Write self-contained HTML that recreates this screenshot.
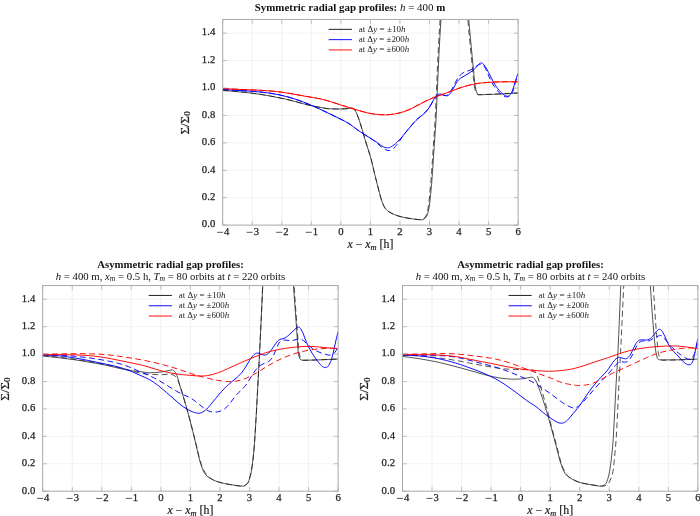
<!DOCTYPE html>
<html><head><meta charset="utf-8"><title>Radial gap profiles</title>
<style>
html,body{margin:0;padding:0;background:#fff;}
body{width:700px;height:516px;position:relative;overflow:hidden;font-family:"Liberation Serif",serif;}
</style></head><body>
<svg width="700" height="516" viewBox="0 0 700 516" style="position:absolute;left:0;top:0;will-change:transform;font-family:'Liberation Serif',serif">
<rect width="700" height="516" fill="#fff"/>
<defs>
<clipPath id="c1"><rect x="222.70" y="19.45" width="295.40" height="205.65"/></clipPath>
<clipPath id="c2"><rect x="42.70" y="285.55" width="295.40" height="205.65"/></clipPath>
<clipPath id="c3"><rect x="402.50" y="285.55" width="295.40" height="205.65"/></clipPath>
</defs>
<line x1="252.24" y1="19.45" x2="252.24" y2="225.10" stroke="#ececec" stroke-width="0.8"/>
<line x1="281.78" y1="19.45" x2="281.78" y2="225.10" stroke="#ececec" stroke-width="0.8"/>
<line x1="311.32" y1="19.45" x2="311.32" y2="225.10" stroke="#ececec" stroke-width="0.8"/>
<line x1="340.86" y1="19.45" x2="340.86" y2="225.10" stroke="#ececec" stroke-width="0.8"/>
<line x1="370.40" y1="19.45" x2="370.40" y2="225.10" stroke="#ececec" stroke-width="0.8"/>
<line x1="399.94" y1="19.45" x2="399.94" y2="225.10" stroke="#ececec" stroke-width="0.8"/>
<line x1="429.48" y1="19.45" x2="429.48" y2="225.10" stroke="#ececec" stroke-width="0.8"/>
<line x1="459.02" y1="19.45" x2="459.02" y2="225.10" stroke="#ececec" stroke-width="0.8"/>
<line x1="488.56" y1="19.45" x2="488.56" y2="225.10" stroke="#ececec" stroke-width="0.8"/>
<line x1="222.70" y1="197.68" x2="518.10" y2="197.68" stroke="#f0f0f0" stroke-width="0.8"/>
<line x1="222.70" y1="170.26" x2="518.10" y2="170.26" stroke="#f0f0f0" stroke-width="0.8"/>
<line x1="222.70" y1="142.84" x2="518.10" y2="142.84" stroke="#f0f0f0" stroke-width="0.8"/>
<line x1="222.70" y1="115.42" x2="518.10" y2="115.42" stroke="#f0f0f0" stroke-width="0.8"/>
<line x1="222.70" y1="88.00" x2="518.10" y2="88.00" stroke="#f0f0f0" stroke-width="0.8"/>
<line x1="222.70" y1="60.58" x2="518.10" y2="60.58" stroke="#f0f0f0" stroke-width="0.8"/>
<line x1="222.70" y1="33.16" x2="518.10" y2="33.16" stroke="#f0f0f0" stroke-width="0.8"/>
<g clip-path="url(#c1)">
<path d="M222.70 90.47 L228.12 90.81 L233.55 91.23 L245.39 92.41 L256.23 93.73 L261.17 94.46 L266.10 95.28 L275.96 97.12 L285.33 99.06 L291.25 100.53 L304.56 104.09 L310.48 105.51 L316.40 106.71 L326.76 108.56 L329.71 108.83 L336.13 108.95 L341.55 108.97 L345.99 108.72 L348.45 108.52 L350.76 108.21 L351.80 108.15 L352.69 108.31 L353.88 108.85 L354.32 109.24 L354.87 110.01 L355.85 111.70 L356.54 113.10 L358.32 117.52 L359.95 122.43 L362.02 129.22 L364.99 139.35 L370.02 155.38 L371.14 159.17 L371.95 162.34 L373.88 170.79 L375.21 176.26 L379.66 193.66 L380.69 197.49 L381.50 200.05 L382.77 203.51 L383.66 205.63 L384.55 207.33 L385.44 208.57 L386.62 209.89 L387.81 210.95 L388.99 211.79 L391.22 213.08 L393.44 214.17 L395.80 215.14 L398.26 215.98 L401.72 216.92 L405.17 217.67 L408.62 218.28 L414.04 219.06 L417.50 219.49 L420.46 219.72 L422.33 219.74 L422.79 219.65 L423.26 219.48 L424.11 218.97 L424.97 218.25 L426.13 216.99 L426.60 216.32 L427.06 215.29 L427.53 213.94 L428.54 210.10 L429.16 206.95 L429.86 201.75 L430.63 194.41 L431.72 182.69 L432.50 172.31 L434.13 147.29 L435.45 128.78 L435.99 120.01 L436.61 107.39 L438.86 55.99 L439.95 35.94 L441.27 14.73 L442.36 -7.11 M467.20 -6.74 L468.06 8.69 L468.78 19.67 L469.45 27.72 L471.25 46.98 L474.19 77.16 L474.89 83.57 L475.35 86.87 L475.82 89.23 L476.44 91.77 L476.91 93.01 L477.53 93.78 L478.15 94.35 L478.69 94.64 L479.24 94.72 L484.07 94.61 L498.87 94.03 L508.73 93.52 L518.10 92.94" fill="none" stroke="#161616" stroke-width="0.95" stroke-opacity="0.78" stroke-linejoin="round"/>
<path d="M222.70 90.47 L228.12 90.81 L233.55 91.23 L245.39 92.41 L256.23 93.73 L261.17 94.46 L266.10 95.28 L275.96 97.12 L285.33 99.06 L291.25 100.53 L304.56 104.09 L310.48 105.51 L316.40 106.71 L326.76 108.56 L329.71 108.83 L336.13 108.95 L341.55 108.97 L345.99 108.72 L348.45 108.52 L350.76 108.21 L351.80 108.15 L352.69 108.31 L353.88 108.85 L354.32 109.24 L354.87 110.01 L355.85 111.70 L356.54 113.10 L358.32 117.52 L359.95 122.43 L362.02 129.22 L364.99 139.35 L370.02 155.38 L371.14 159.17 L371.95 162.34 L373.88 170.79 L375.21 176.26 L379.66 193.66 L380.69 197.49 L381.50 200.05 L382.77 203.51 L383.66 205.63 L384.55 207.33 L385.44 208.57 L386.62 209.89 L387.66 210.83 L388.89 211.73 L390.92 212.92 L393.14 214.04 L395.30 214.95 L397.77 215.82 L400.24 216.54 L403.19 217.26 L406.15 217.86 L409.11 218.35 L415.03 219.19 L417.99 219.54 L421.55 219.75 L422.25 219.74 L422.71 219.61 L423.41 219.16 L424.11 218.47 L425.20 217.08 L425.74 216.20 L426.21 215.13 L426.75 213.52 L427.30 211.55 L427.85 209.21 L428.46 205.72 L429.08 200.79 L429.86 193.29 L430.87 182.31 L431.64 171.84 L433.27 146.82 L434.59 128.30 L435.14 119.43 L435.74 107.00 L438.01 55.34 L439.10 35.39 L440.34 15.55 L441.50 -7.80 M466.27 -7.62 L467.12 7.93 L467.90 19.70 L468.60 28.08 L470.23 45.59 L473.26 76.70 L473.96 83.20 L474.34 86.09 L474.73 88.27 L475.43 91.34 L475.97 92.92 L476.52 93.65 L477.17 94.27 L477.68 94.59 L478.23 94.72 L483.58 94.62 L498.37 94.06 L508.24 93.56 L518.10 92.94" fill="none" stroke="#161616" stroke-width="0.95" stroke-dasharray="5.8 3.5" stroke-opacity="0.78" stroke-linejoin="round"/>
<path d="M222.70 89.37 L229.60 89.87 L246.37 90.88 L253.77 91.41 L262.15 92.19 L269.55 93.13 L273.49 93.76 L276.95 94.38 L280.89 95.20 L284.34 96.02 L287.80 96.92 L291.74 98.07 L295.19 99.16 L299.14 100.50 L303.58 102.14 L308.02 103.89 L312.45 105.76 L316.89 107.73 L327.25 112.61 L342.54 120.07 L345.50 121.58 L347.96 122.97 L350.17 124.40 L352.09 125.80 L356.69 129.31 L359.50 131.29 L365.58 135.18 L374.77 140.90 L376.69 142.22 L380.40 144.96 L381.88 145.96 L383.47 146.84 L384.95 147.43 L386.33 147.75 L387.66 147.82 L388.55 147.71 L389.59 147.43 L390.62 147.01 L391.66 146.47 L392.84 145.73 L394.03 144.86 L395.30 143.82 L396.78 142.49 L399.25 139.99 L401.72 137.22 L412.07 124.73 L415.03 121.38 L416.02 120.38 L417.50 119.02 L423.49 114.14 L425.74 111.96 L427.36 110.08 L428.85 108.04 L430.25 105.78 L433.12 100.64 L434.36 98.55 L435.60 96.75 L436.77 95.46 L437.54 94.84 L438.32 94.40 L439.10 94.13 L439.95 94.02 L440.67 94.06 L441.50 94.25 L444.69 95.47 L446.01 95.80 L446.70 95.84 L447.40 95.74 L448.07 95.50 L448.72 95.10 L449.27 94.63 L449.89 93.96 L451.13 92.24 L452.45 90.03 L455.17 84.99 L456.33 82.96 L457.50 81.21 L458.66 79.84 L459.67 78.91 L460.84 78.07 L468.06 73.75 L470.62 72.09 L472.40 70.80 L473.65 69.78 L474.73 68.77 L475.82 67.62 L478.46 64.54 L479.31 63.74 L480.01 63.25 L480.56 63.01 L481.02 62.92 L481.49 62.94 L481.95 63.08 L482.50 63.37 L483.09 63.84 L484.07 64.93 L485.55 67.07 L487.03 69.61 L488.51 72.40 L492.46 80.18 L493.94 82.89 L495.41 85.35 L496.89 87.54 L497.88 88.86 L499.36 90.66 L500.35 91.74 L501.83 93.19 L503.31 94.46 L504.29 95.16 L505.28 95.71 L506.26 96.08 L507.25 96.23 L507.74 96.21 L508.24 96.11 L508.73 95.93 L509.22 95.65 L509.72 95.25 L510.21 94.73 L510.70 94.07 L511.20 93.26 L511.69 92.30 L512.68 89.86 L513.66 86.90 L516.62 77.31 L517.61 74.68 L518.10 73.60" fill="none" stroke="#0000ff" stroke-width="0.95" stroke-linejoin="round"/>
<path d="M222.70 89.37 L230.59 89.93 L247.36 90.95 L254.26 91.45 L262.65 92.25 L270.54 93.28 L274.48 93.93 L278.43 94.68 L282.37 95.54 L285.82 96.39 L289.28 97.34 L293.22 98.52 L297.17 99.82 L301.11 101.22 L305.06 102.71 L309.50 104.50 L313.93 106.41 L318.87 108.63 L330.21 114.05 L343.03 120.32 L346.48 122.12 L348.45 123.28 L350.46 124.60 L356.84 129.42 L359.65 131.40 L362.61 133.32 L368.99 137.26 L372.25 139.46 L375.36 141.82 L381.14 146.74 L383.66 148.65 L385.14 149.54 L386.47 150.13 L387.81 150.48 L388.99 150.54 L389.73 150.45 L390.48 150.26 L391.22 149.96 L392.11 149.47 L392.85 148.96 L393.74 148.23 L395.30 146.62 L396.29 145.43 L397.77 143.45 L402.70 136.35 L404.67 133.67 L407.14 130.62 L413.55 123.06 L415.52 120.89 L417.50 118.97 L422.71 114.55 L424.58 112.86 L426.05 111.37 L427.45 109.78 L428.61 108.28 L429.70 106.72 L433.20 101.08 L434.36 99.30 L435.52 97.75 L436.53 96.66 L437.23 96.07 L438.01 95.56 L438.79 95.19 L439.56 94.96 L440.42 94.84 L441.35 94.86 L444.61 95.47 L445.31 95.53 L446.01 95.51 L446.78 95.36 L447.48 95.07 L448.18 94.62 L448.80 94.05 L449.81 92.78 L450.90 91.04 L451.98 89.03 L455.32 82.48 L456.64 80.16 L457.88 78.19 L459.20 76.36 L460.45 74.92 L461.61 73.84 L462.93 72.91 L463.79 72.44 L464.79 72.00 L468.99 70.59 L471.08 69.66 L473.34 68.35 L477.61 65.37 L479.08 64.54 L479.93 64.26 L480.71 64.17 L481.49 64.29 L482.19 64.58 L483.09 65.24 L483.58 65.74 L484.57 67.02 L485.06 67.81 L485.55 68.70 L486.54 70.76 L489.00 76.55 L490.98 80.70 L491.96 82.54 L493.44 85.04 L494.43 86.55 L495.91 88.63 L497.39 90.51 L498.87 92.22 L500.35 93.73 L501.83 94.98 L503.31 95.96 L504.29 96.43 L505.77 96.84 L506.76 96.90 L507.74 96.78 L508.73 96.47 L509.72 95.94 L510.21 95.58 L510.70 95.11 L511.20 94.51 L511.69 93.76 L512.18 92.83 L512.68 91.70 L513.66 88.80 L516.62 77.94 L517.61 74.84 L518.10 73.60" fill="none" stroke="#0000ff" stroke-width="0.95" stroke-dasharray="5.8 3.5" stroke-linejoin="round"/>
<path d="M222.70 88.55 L233.55 89.17 L256.73 90.12 L266.10 90.67 L272.02 91.15 L277.44 91.71 L282.37 92.33 L287.80 93.15 L293.71 94.16 L308.02 96.76 L317.39 98.34 L320.34 98.93 L323.30 99.62 L327.25 100.67 L331.19 101.86 L345.50 106.50 L353.58 109.00 L363.21 111.77 L368.54 113.12 L372.40 113.85 L376.69 114.39 L381.73 114.79 L385.73 114.86 L388.10 114.75 L390.62 114.52 L393.14 114.19 L395.80 113.74 L398.26 113.22 L400.73 112.61 L403.19 111.88 L405.17 111.22 L408.13 110.07 L411.09 108.73 L414.04 107.25 L425.35 101.33 L428.85 99.66 L432.19 98.23 L436.46 96.59 L446.01 93.16 L458.89 88.32 L464.25 86.56 L469.30 85.16 L473.57 84.20 L477.92 83.46 L482.65 82.87 L488.02 82.42 L493.94 82.09 L500.84 81.87 L508.24 81.79 L518.10 81.83" fill="none" stroke="#ff0000" stroke-width="0.95" stroke-linejoin="round"/>
<path d="M222.70 88.48 L233.55 89.10 L256.73 90.05 L266.10 90.61 L272.02 91.08 L277.44 91.64 L282.37 92.26 L287.80 93.08 L293.71 94.09 L308.02 96.69 L317.39 98.28 L320.34 98.86 L323.30 99.55 L327.25 100.61 L331.19 101.79 L345.50 106.44 L353.58 108.94 L363.21 111.70 L368.54 113.05 L372.40 113.78 L376.69 114.32 L381.73 114.72 L385.73 114.79 L388.10 114.68 L390.62 114.46 L393.14 114.12 L395.80 113.67 L398.26 113.15 L400.73 112.54 L403.19 111.81 L405.17 111.15 L408.13 110.00 L411.09 108.67 L414.04 107.18 L425.35 101.26 L428.85 99.59 L432.19 98.16 L436.46 96.52 L446.01 93.09 L458.89 88.25 L464.25 86.49 L469.30 85.09 L473.57 84.14 L477.92 83.39 L482.65 82.80 L488.02 82.35 L493.94 82.02 L500.84 81.80 L508.24 81.72 L518.10 81.76" fill="none" stroke="#ff0000" stroke-width="0.95" stroke-dasharray="5.8 3.5" stroke-linejoin="round"/>
</g>
<line x1="328.70" y1="29.35" x2="351.90" y2="29.35" stroke="#161616" stroke-width="0.95"/>
<text x="358.70" y="31.75" font-size="7.6" fill="#222" textLength="46.8" lengthAdjust="spacingAndGlyphs">at Δ<tspan font-style="italic">y</tspan> = ±10<tspan font-style="italic">h</tspan></text>
<line x1="328.70" y1="39.65" x2="351.90" y2="39.65" stroke="#0000ff" stroke-width="0.95"/>
<text x="358.70" y="42.05" font-size="7.6" fill="#222" textLength="50.5" lengthAdjust="spacingAndGlyphs">at Δ<tspan font-style="italic">y</tspan> = ±200<tspan font-style="italic">h</tspan></text>
<line x1="328.70" y1="49.95" x2="351.90" y2="49.95" stroke="#ff0000" stroke-width="0.95"/>
<text x="358.70" y="52.35" font-size="7.6" fill="#222" textLength="50.5" lengthAdjust="spacingAndGlyphs">at Δ<tspan font-style="italic">y</tspan> = ±600<tspan font-style="italic">h</tspan></text>
<path d="M222.70 225.10v-4.20 M222.70 19.45v4.20 M252.24 225.10v-4.20 M252.24 19.45v4.20 M281.78 225.10v-4.20 M281.78 19.45v4.20 M311.32 225.10v-4.20 M311.32 19.45v4.20 M340.86 225.10v-4.20 M340.86 19.45v4.20 M370.40 225.10v-4.20 M370.40 19.45v4.20 M399.94 225.10v-4.20 M399.94 19.45v4.20 M429.48 225.10v-4.20 M429.48 19.45v4.20 M459.02 225.10v-4.20 M459.02 19.45v4.20 M488.56 225.10v-4.20 M488.56 19.45v4.20 M518.10 225.10v-4.20 M518.10 19.45v4.20 M222.70 225.10h4.20 M518.10 225.10h-4.20 M222.70 197.68h4.20 M518.10 197.68h-4.20 M222.70 170.26h4.20 M518.10 170.26h-4.20 M222.70 142.84h4.20 M518.10 142.84h-4.20 M222.70 115.42h4.20 M518.10 115.42h-4.20 M222.70 88.00h4.20 M518.10 88.00h-4.20 M222.70 60.58h4.20 M518.10 60.58h-4.20 M222.70 33.16h4.20 M518.10 33.16h-4.20 " stroke="#a8a8a8" stroke-width="0.7" fill="none"/>
<rect x="222.70" y="19.45" width="295.40" height="205.65" fill="none" stroke="#a9a9a9" stroke-width="1.0"/>
<line x1="217.10" y1="232.30" x2="223.10" y2="232.30" stroke="#222" stroke-width="0.75"/>
<text x="224.10" y="235.15" font-size="10.7" fill="#222" stroke="#222" stroke-width="0.25">4</text>
<line x1="246.64" y1="232.30" x2="252.64" y2="232.30" stroke="#222" stroke-width="0.75"/>
<text x="253.64" y="235.15" font-size="10.7" fill="#222" stroke="#222" stroke-width="0.25">3</text>
<line x1="276.18" y1="232.30" x2="282.18" y2="232.30" stroke="#222" stroke-width="0.75"/>
<text x="283.18" y="235.15" font-size="10.7" fill="#222" stroke="#222" stroke-width="0.25">2</text>
<line x1="305.72" y1="232.30" x2="311.72" y2="232.30" stroke="#222" stroke-width="0.75"/>
<text x="312.72" y="235.15" font-size="10.7" fill="#222" stroke="#222" stroke-width="0.25">1</text>
<text x="340.86" y="235.15" font-size="10.7" text-anchor="middle" fill="#222" stroke="#222" stroke-width="0.25">0</text>
<text x="370.40" y="235.15" font-size="10.7" text-anchor="middle" fill="#222" stroke="#222" stroke-width="0.25">1</text>
<text x="399.94" y="235.15" font-size="10.7" text-anchor="middle" fill="#222" stroke="#222" stroke-width="0.25">2</text>
<text x="429.48" y="235.15" font-size="10.7" text-anchor="middle" fill="#222" stroke="#222" stroke-width="0.25">3</text>
<text x="459.02" y="235.15" font-size="10.7" text-anchor="middle" fill="#222" stroke="#222" stroke-width="0.25">4</text>
<text x="488.56" y="235.15" font-size="10.7" text-anchor="middle" fill="#222" stroke="#222" stroke-width="0.25">5</text>
<text x="518.10" y="235.15" font-size="10.7" text-anchor="middle" fill="#222" stroke="#222" stroke-width="0.25">6</text>
<text x="215.45" y="227.40" font-size="10.7" text-anchor="end" letter-spacing="0.1" fill="#222" stroke="#222" stroke-width="0.25">0.0</text>
<text x="215.45" y="199.98" font-size="10.7" text-anchor="end" letter-spacing="0.1" fill="#222" stroke="#222" stroke-width="0.25">0.2</text>
<text x="215.45" y="172.56" font-size="10.7" text-anchor="end" letter-spacing="0.1" fill="#222" stroke="#222" stroke-width="0.25">0.4</text>
<text x="215.45" y="145.14" font-size="10.7" text-anchor="end" letter-spacing="0.1" fill="#222" stroke="#222" stroke-width="0.25">0.6</text>
<text x="215.45" y="117.72" font-size="10.7" text-anchor="end" letter-spacing="0.1" fill="#222" stroke="#222" stroke-width="0.25">0.8</text>
<text x="215.45" y="90.30" font-size="10.7" text-anchor="end" letter-spacing="0.1" fill="#222" stroke="#222" stroke-width="0.25">1.0</text>
<text x="215.45" y="62.88" font-size="10.7" text-anchor="end" letter-spacing="0.1" fill="#222" stroke="#222" stroke-width="0.25">1.2</text>
<text x="215.45" y="35.46" font-size="10.7" text-anchor="end" letter-spacing="0.1" fill="#222" stroke="#222" stroke-width="0.25">1.4</text>
<text x="370.40" y="248.00" font-size="11.6" text-anchor="middle" fill="#222" stroke="#222" stroke-width="0.2" textLength="46" lengthAdjust="spacingAndGlyphs"><tspan font-style="italic">x</tspan> − <tspan font-style="italic">x</tspan><tspan font-style="italic" font-size="8.2" dy="1.8">m</tspan><tspan dy="-1.8"> [h]</tspan></text>
<text transform="translate(188.50 122.97) rotate(-90)" font-size="12.2" text-anchor="middle" fill="#222" stroke="#222" stroke-width="0.2" textLength="23.2" lengthAdjust="spacingAndGlyphs">Σ/Σ<tspan font-size="8.4" dy="1.8">0</tspan></text>
<line x1="72.24" y1="285.55" x2="72.24" y2="491.20" stroke="#ececec" stroke-width="0.8"/>
<line x1="101.78" y1="285.55" x2="101.78" y2="491.20" stroke="#ececec" stroke-width="0.8"/>
<line x1="131.32" y1="285.55" x2="131.32" y2="491.20" stroke="#ececec" stroke-width="0.8"/>
<line x1="160.86" y1="285.55" x2="160.86" y2="491.20" stroke="#ececec" stroke-width="0.8"/>
<line x1="190.40" y1="285.55" x2="190.40" y2="491.20" stroke="#ececec" stroke-width="0.8"/>
<line x1="219.94" y1="285.55" x2="219.94" y2="491.20" stroke="#ececec" stroke-width="0.8"/>
<line x1="249.48" y1="285.55" x2="249.48" y2="491.20" stroke="#ececec" stroke-width="0.8"/>
<line x1="279.02" y1="285.55" x2="279.02" y2="491.20" stroke="#ececec" stroke-width="0.8"/>
<line x1="308.56" y1="285.55" x2="308.56" y2="491.20" stroke="#ececec" stroke-width="0.8"/>
<line x1="42.70" y1="463.78" x2="338.10" y2="463.78" stroke="#f0f0f0" stroke-width="0.8"/>
<line x1="42.70" y1="436.36" x2="338.10" y2="436.36" stroke="#f0f0f0" stroke-width="0.8"/>
<line x1="42.70" y1="408.94" x2="338.10" y2="408.94" stroke="#f0f0f0" stroke-width="0.8"/>
<line x1="42.70" y1="381.52" x2="338.10" y2="381.52" stroke="#f0f0f0" stroke-width="0.8"/>
<line x1="42.70" y1="354.10" x2="338.10" y2="354.10" stroke="#f0f0f0" stroke-width="0.8"/>
<line x1="42.70" y1="326.68" x2="338.10" y2="326.68" stroke="#f0f0f0" stroke-width="0.8"/>
<line x1="42.70" y1="299.26" x2="338.10" y2="299.26" stroke="#f0f0f0" stroke-width="0.8"/>
<g clip-path="url(#c2)">
<path d="M42.70 356.02 L52.07 356.95 L61.93 358.10 L73.28 359.59 L81.66 360.85 L92.02 362.60 L103.36 364.69 L108.78 365.87 L121.11 368.78 L127.52 370.08 L132.45 370.84 L140.34 371.70 L146.76 372.56 L148.73 372.72 L150.70 372.74 L153.66 372.64 L157.11 372.41 L162.04 371.91 L166.98 370.87 L171.20 370.08 L172.54 370.01 L172.89 370.11 L173.28 370.32 L173.88 370.80 L174.87 371.78 L175.65 372.89 L176.84 375.27 L177.72 377.82 L179.65 384.84 L182.76 394.89 L185.58 404.29 L189.43 418.15 L192.62 430.68 L196.40 446.33 L198.77 456.68 L199.95 461.31 L201.00 464.70 L202.18 468.13 L203.07 470.35 L203.96 472.10 L204.99 473.65 L206.03 474.99 L207.07 476.10 L208.25 477.10 L210.33 478.44 L212.55 479.66 L214.81 480.68 L217.28 481.61 L220.73 482.64 L224.67 483.57 L228.62 484.30 L236.51 485.57 L239.47 485.95 L242.17 486.12 L243.34 486.07 L244.40 485.73 L245.28 485.25 L246.21 484.59 L247.45 483.48 L247.85 482.96 L248.38 481.94 L248.93 480.56 L250.09 476.69 L251.10 472.50 L252.03 466.93 L253.04 459.03 L253.97 449.95 L254.83 438.16 L256.24 415.19 L259.33 357.86 L260.96 324.44 L263.99 258.26 M291.94 258.76 L292.87 275.47 L293.65 287.84 L296.52 327.65 L297.92 348.75 L298.23 352.09 L298.46 353.80 L299.14 356.72 L299.78 358.57 L300.17 359.20 L300.87 359.70 L301.72 360.10 L302.59 360.27 L308.02 360.19 L320.35 359.81 L338.10 359.04" fill="none" stroke="#161616" stroke-width="0.95" stroke-opacity="0.78" stroke-linejoin="round"/>
<path d="M42.70 355.47 L56.51 356.92 L71.80 358.84 L84.62 360.71 L96.95 362.79 L105.33 364.41 L113.71 366.31 L131.47 370.73 L138.87 372.89 L141.82 373.54 L143.80 373.77 L149.22 374.21 L153.17 374.46 L157.11 374.61 L162.04 374.64 L167.96 374.30 L170.17 374.27 L171.20 374.40 L172.24 374.65 L173.72 375.16 L174.32 375.46 L175.06 376.09 L175.85 377.01 L176.69 378.15 L177.28 379.20 L178.02 380.79 L178.81 382.73 L179.95 385.71 L180.69 387.92 L185.73 404.81 L189.73 419.30 L192.25 428.95 L196.07 444.13 L198.77 455.59 L199.95 460.12 L201.29 464.23 L202.62 467.75 L203.81 470.30 L205.29 472.84 L206.43 474.51 L207.51 475.82 L208.40 476.65 L209.88 477.75 L211.81 478.99 L213.82 480.09 L215.80 480.99 L218.26 481.91 L221.72 482.91 L225.17 483.68 L228.62 484.31 L237.00 485.65 L239.96 486.00 L242.33 486.12 L243.34 486.07 L244.34 485.75 L245.28 485.25 L246.21 484.59 L247.45 483.48 L247.85 482.96 L248.38 481.94 L248.93 480.56 L250.09 476.69 L251.10 472.50 L252.03 466.93 L253.04 459.03 L253.97 449.95 L254.83 438.16 L256.24 415.19 L259.33 357.86 L260.96 324.44 L263.99 258.26 M292.56 259.22 L293.65 278.56 L294.73 295.23 L295.97 312.75 L298.46 345.78 L298.93 350.78 L299.31 353.65 L300.01 356.62 L300.63 358.48 L301.02 359.16 L301.72 359.68 L302.65 360.12 L303.58 360.27 L308.51 360.19 L320.84 359.79 L338.10 359.04" fill="none" stroke="#161616" stroke-width="0.95" stroke-dasharray="5.8 3.5" stroke-opacity="0.78" stroke-linejoin="round"/>
<path d="M42.70 355.33 L46.15 355.27 L50.10 355.31 L54.04 355.48 L57.99 355.76 L61.93 356.14 L66.37 356.67 L70.81 357.30 L75.74 358.11 L81.66 359.18 L88.07 360.44 L106.81 364.33 L112.23 365.51 L116.67 366.58 L120.62 367.64 L124.56 368.86 L128.02 370.07 L132.45 371.86 L139.36 374.98 L145.77 377.77 L148.73 379.22 L151.19 380.62 L153.17 381.88 L155.14 383.25 L157.61 385.10 L160.07 387.05 L166.48 392.44 L178.02 402.64 L180.98 405.04 L183.80 407.08 L186.02 408.51 L188.10 409.70 L190.17 410.75 L192.25 411.66 L194.32 412.41 L196.40 412.99 L197.88 413.24 L199.21 413.27 L200.02 413.16 L200.84 412.94 L201.73 412.60 L202.62 412.15 L204.55 410.88 L206.62 409.11 L208.25 407.45 L210.03 405.42 L215.80 398.24 L219.25 394.11 L221.72 391.32 L224.18 388.69 L226.65 386.25 L228.62 384.44 L236.51 377.86 L238.48 376.08 L239.96 374.60 L242.02 372.24 L243.96 369.60 L245.59 367.04 L249.39 360.69 L251.18 357.98 L252.73 355.97 L254.13 354.55 L254.98 353.90 L255.74 353.48 L256.53 353.21 L257.31 353.12 L258.09 353.17 L259.02 353.37 L262.59 354.73 L264.07 355.09 L264.84 355.13 L265.62 355.02 L266.39 354.75 L267.17 354.33 L267.95 353.77 L268.72 353.08 L270.35 351.28 L271.91 349.19 L275.96 343.21 L277.19 341.67 L278.27 340.56 L279.13 339.91 L279.98 339.46 L280.91 339.14 L283.01 338.68 L283.94 338.40 L285.03 337.91 L286.27 337.14 L287.75 336.02 L289.45 334.54 L296.18 328.16 L296.98 327.55 L297.66 327.20 L298.15 327.10 L298.61 327.12 L299.08 327.28 L299.55 327.56 L300.01 327.97 L300.48 328.49 L301.49 329.99 L302.26 331.46 L303.09 333.31 L306.54 342.38 L307.52 344.71 L308.51 346.80 L309.99 349.62 L311.96 352.99 L313.94 356.04 L316.40 359.54 L318.37 362.20 L319.85 364.03 L321.33 365.59 L322.32 366.43 L323.31 367.06 L323.80 367.30 L324.78 367.58 L325.77 367.58 L326.26 367.46 L326.76 367.26 L327.25 366.96 L327.74 366.57 L328.24 366.06 L329.22 364.67 L330.21 362.73 L330.70 361.53 L331.69 358.64 L332.18 356.92 L333.17 353.02 L336.62 337.39 L338.10 331.48" fill="none" stroke="#0000ff" stroke-width="0.95" stroke-linejoin="round"/>
<path d="M42.70 354.79 L48.12 354.81 L53.55 354.92 L58.97 355.13 L64.40 355.43 L69.82 355.82 L75.25 356.29 L80.67 356.86 L86.10 357.51 L92.02 358.31 L97.93 359.22 L103.85 360.22 L108.78 361.15 L113.22 362.10 L117.17 363.06 L121.11 364.16 L124.56 365.25 L128.51 366.67 L131.96 368.08 L139.85 371.63 L149.22 375.58 L151.69 376.72 L154.65 378.21 L158.10 380.08 L162.04 382.35 L174.37 389.92 L178.02 392.05 L181.58 393.88 L188.25 396.84 L189.73 397.60 L191.14 398.41 L193.14 399.72 L195.36 401.34 L203.51 407.83 L205.14 408.98 L206.77 409.99 L208.70 410.95 L210.62 411.63 L212.70 412.02 L214.81 412.12 L216.78 411.98 L218.26 411.73 L220.24 411.19 L221.72 410.60 L223.19 409.84 L224.67 408.84 L225.66 408.02 L227.14 406.56 L229.11 404.27 L234.54 397.36 L237.00 394.41 L238.98 392.29 L243.34 387.98 L244.58 386.62 L245.66 385.29 L246.67 383.93 L247.68 382.41 L251.72 375.76 L253.74 372.62 L255.52 370.11 L257.22 368.08 L258.09 367.21 L259.02 366.40 L260.03 365.65 L261.04 365.01 L262.98 364.01 L267.17 362.21 L268.65 361.40 L269.97 360.40 L271.21 359.10 L272.45 357.34 L273.61 355.18 L274.70 352.73 L277.19 346.64 L278.51 343.87 L279.13 342.83 L279.83 341.92 L280.52 341.25 L281.30 340.73 L281.92 340.45 L282.70 340.22 L283.55 340.09 L284.41 340.04 L285.96 340.14 L289.69 340.66 L290.70 340.71 L291.55 340.68 L293.22 340.38 L296.60 339.34 L297.99 339.02 L299.47 338.91 L300.13 338.98 L300.79 339.13 L301.41 339.35 L302.11 339.70 L303.58 340.70 L305.06 341.96 L308.51 345.28 L309.99 346.58 L312.46 348.47 L314.92 350.05 L317.88 351.59 L321.33 353.02 L323.31 353.70 L325.77 354.45 L327.25 354.85 L328.73 355.12 L330.21 355.16 L331.20 354.99 L332.18 354.63 L332.68 354.36 L333.66 353.64 L334.65 352.64 L335.14 352.03 L336.13 350.54 L337.11 348.68 L338.10 346.42" fill="none" stroke="#0000ff" stroke-width="0.95" stroke-dasharray="5.8 3.5" stroke-linejoin="round"/>
<path d="M42.70 354.79 L62.43 354.66 L69.33 354.73 L75.74 354.89 L82.15 355.17 L88.07 355.57 L93.49 356.07 L98.92 356.71 L104.84 357.60 L111.25 358.75 L138.87 364.42 L142.32 365.26 L145.77 366.21 L157.11 369.61 L161.55 370.88 L166.48 372.11 L171.20 373.10 L176.39 373.94 L182.61 374.65 L196.07 375.86 L199.06 376.02 L201.73 376.03 L203.66 375.95 L205.58 375.79 L207.41 375.56 L209.29 375.23 L213.14 374.33 L217.28 373.04 L220.24 371.94 L223.69 370.52 L227.63 368.76 L236.02 364.88 L241.63 362.39 L252.11 357.93 L258.63 355.30 L263.60 353.50 L268.18 352.05 L273.07 350.74 L278.20 349.60 L284.87 348.42 L292.17 347.45 L299.70 346.74 L303.09 346.53 L306.04 346.44 L310.48 346.46 L314.92 346.68 L319.36 347.04 L331.69 348.22 L338.10 348.62" fill="none" stroke="#ff0000" stroke-width="0.95" stroke-linejoin="round"/>
<path d="M42.70 354.10 L50.59 354.04 L75.74 353.66 L84.13 353.68 L91.52 353.84 L98.92 354.18 L106.32 354.75 L114.21 355.58 L122.59 356.70 L132.95 358.35 L143.30 360.23 L152.18 362.06 L160.56 364.03 L166.98 365.75 L172.98 367.53 L178.02 369.15 L189.88 373.12 L196.55 375.21 L203.51 377.18 L209.88 378.77 L215.80 380.00 L221.72 380.95 L226.15 381.39 L228.62 381.51 L230.59 381.51 L233.06 381.40 L235.03 381.21 L237.00 380.93 L238.98 380.55 L240.85 380.09 L242.71 379.54 L244.50 378.92 L246.29 378.19 L249.78 376.50 L256.61 372.79 L259.33 371.19 L265.23 367.47 L268.72 365.37 L272.76 363.08 L276.72 360.99 L281.30 358.79 L285.88 356.81 L290.46 355.05 L295.12 353.49 L299.78 352.16 L304.57 351.03 L309.50 350.10 L314.43 349.39 L319.85 348.84 L325.28 348.48 L331.20 348.28 L338.10 348.20" fill="none" stroke="#ff0000" stroke-width="0.95" stroke-dasharray="5.8 3.5" stroke-linejoin="round"/>
</g>
<line x1="148.70" y1="295.45" x2="171.90" y2="295.45" stroke="#161616" stroke-width="0.95"/>
<text x="178.70" y="297.85" font-size="7.6" fill="#222" textLength="46.8" lengthAdjust="spacingAndGlyphs">at Δ<tspan font-style="italic">y</tspan> = ±10<tspan font-style="italic">h</tspan></text>
<line x1="148.70" y1="305.75" x2="171.90" y2="305.75" stroke="#0000ff" stroke-width="0.95"/>
<text x="178.70" y="308.15" font-size="7.6" fill="#222" textLength="50.5" lengthAdjust="spacingAndGlyphs">at Δ<tspan font-style="italic">y</tspan> = ±200<tspan font-style="italic">h</tspan></text>
<line x1="148.70" y1="316.05" x2="171.90" y2="316.05" stroke="#ff0000" stroke-width="0.95"/>
<text x="178.70" y="318.45" font-size="7.6" fill="#222" textLength="50.5" lengthAdjust="spacingAndGlyphs">at Δ<tspan font-style="italic">y</tspan> = ±600<tspan font-style="italic">h</tspan></text>
<path d="M42.70 491.20v-4.20 M42.70 285.55v4.20 M72.24 491.20v-4.20 M72.24 285.55v4.20 M101.78 491.20v-4.20 M101.78 285.55v4.20 M131.32 491.20v-4.20 M131.32 285.55v4.20 M160.86 491.20v-4.20 M160.86 285.55v4.20 M190.40 491.20v-4.20 M190.40 285.55v4.20 M219.94 491.20v-4.20 M219.94 285.55v4.20 M249.48 491.20v-4.20 M249.48 285.55v4.20 M279.02 491.20v-4.20 M279.02 285.55v4.20 M308.56 491.20v-4.20 M308.56 285.55v4.20 M338.10 491.20v-4.20 M338.10 285.55v4.20 M42.70 491.20h4.20 M338.10 491.20h-4.20 M42.70 463.78h4.20 M338.10 463.78h-4.20 M42.70 436.36h4.20 M338.10 436.36h-4.20 M42.70 408.94h4.20 M338.10 408.94h-4.20 M42.70 381.52h4.20 M338.10 381.52h-4.20 M42.70 354.10h4.20 M338.10 354.10h-4.20 M42.70 326.68h4.20 M338.10 326.68h-4.20 M42.70 299.26h4.20 M338.10 299.26h-4.20 " stroke="#a8a8a8" stroke-width="0.7" fill="none"/>
<rect x="42.70" y="285.55" width="295.40" height="205.65" fill="none" stroke="#a9a9a9" stroke-width="1.0"/>
<line x1="37.10" y1="498.40" x2="43.10" y2="498.40" stroke="#222" stroke-width="0.75"/>
<text x="44.10" y="501.25" font-size="10.7" fill="#222" stroke="#222" stroke-width="0.25">4</text>
<line x1="66.64" y1="498.40" x2="72.64" y2="498.40" stroke="#222" stroke-width="0.75"/>
<text x="73.64" y="501.25" font-size="10.7" fill="#222" stroke="#222" stroke-width="0.25">3</text>
<line x1="96.18" y1="498.40" x2="102.18" y2="498.40" stroke="#222" stroke-width="0.75"/>
<text x="103.18" y="501.25" font-size="10.7" fill="#222" stroke="#222" stroke-width="0.25">2</text>
<line x1="125.72" y1="498.40" x2="131.72" y2="498.40" stroke="#222" stroke-width="0.75"/>
<text x="132.72" y="501.25" font-size="10.7" fill="#222" stroke="#222" stroke-width="0.25">1</text>
<text x="160.86" y="501.25" font-size="10.7" text-anchor="middle" fill="#222" stroke="#222" stroke-width="0.25">0</text>
<text x="190.40" y="501.25" font-size="10.7" text-anchor="middle" fill="#222" stroke="#222" stroke-width="0.25">1</text>
<text x="219.94" y="501.25" font-size="10.7" text-anchor="middle" fill="#222" stroke="#222" stroke-width="0.25">2</text>
<text x="249.48" y="501.25" font-size="10.7" text-anchor="middle" fill="#222" stroke="#222" stroke-width="0.25">3</text>
<text x="279.02" y="501.25" font-size="10.7" text-anchor="middle" fill="#222" stroke="#222" stroke-width="0.25">4</text>
<text x="308.56" y="501.25" font-size="10.7" text-anchor="middle" fill="#222" stroke="#222" stroke-width="0.25">5</text>
<text x="338.10" y="501.25" font-size="10.7" text-anchor="middle" fill="#222" stroke="#222" stroke-width="0.25">6</text>
<text x="35.45" y="493.50" font-size="10.7" text-anchor="end" letter-spacing="0.1" fill="#222" stroke="#222" stroke-width="0.25">0.0</text>
<text x="35.45" y="466.08" font-size="10.7" text-anchor="end" letter-spacing="0.1" fill="#222" stroke="#222" stroke-width="0.25">0.2</text>
<text x="35.45" y="438.66" font-size="10.7" text-anchor="end" letter-spacing="0.1" fill="#222" stroke="#222" stroke-width="0.25">0.4</text>
<text x="35.45" y="411.24" font-size="10.7" text-anchor="end" letter-spacing="0.1" fill="#222" stroke="#222" stroke-width="0.25">0.6</text>
<text x="35.45" y="383.82" font-size="10.7" text-anchor="end" letter-spacing="0.1" fill="#222" stroke="#222" stroke-width="0.25">0.8</text>
<text x="35.45" y="356.40" font-size="10.7" text-anchor="end" letter-spacing="0.1" fill="#222" stroke="#222" stroke-width="0.25">1.0</text>
<text x="35.45" y="328.98" font-size="10.7" text-anchor="end" letter-spacing="0.1" fill="#222" stroke="#222" stroke-width="0.25">1.2</text>
<text x="35.45" y="301.56" font-size="10.7" text-anchor="end" letter-spacing="0.1" fill="#222" stroke="#222" stroke-width="0.25">1.4</text>
<text x="190.40" y="514.10" font-size="11.6" text-anchor="middle" fill="#222" stroke="#222" stroke-width="0.2" textLength="46" lengthAdjust="spacingAndGlyphs"><tspan font-style="italic">x</tspan> − <tspan font-style="italic">x</tspan><tspan font-style="italic" font-size="8.2" dy="1.8">m</tspan><tspan dy="-1.8"> [h]</tspan></text>
<text transform="translate(8.50 389.07) rotate(-90)" font-size="12.2" text-anchor="middle" fill="#222" stroke="#222" stroke-width="0.2" textLength="23.2" lengthAdjust="spacingAndGlyphs">Σ/Σ<tspan font-size="8.4" dy="1.8">0</tspan></text>
<line x1="432.04" y1="285.55" x2="432.04" y2="491.20" stroke="#ececec" stroke-width="0.8"/>
<line x1="461.58" y1="285.55" x2="461.58" y2="491.20" stroke="#ececec" stroke-width="0.8"/>
<line x1="491.12" y1="285.55" x2="491.12" y2="491.20" stroke="#ececec" stroke-width="0.8"/>
<line x1="520.66" y1="285.55" x2="520.66" y2="491.20" stroke="#ececec" stroke-width="0.8"/>
<line x1="550.20" y1="285.55" x2="550.20" y2="491.20" stroke="#ececec" stroke-width="0.8"/>
<line x1="579.74" y1="285.55" x2="579.74" y2="491.20" stroke="#ececec" stroke-width="0.8"/>
<line x1="609.28" y1="285.55" x2="609.28" y2="491.20" stroke="#ececec" stroke-width="0.8"/>
<line x1="638.82" y1="285.55" x2="638.82" y2="491.20" stroke="#ececec" stroke-width="0.8"/>
<line x1="668.36" y1="285.55" x2="668.36" y2="491.20" stroke="#ececec" stroke-width="0.8"/>
<line x1="402.50" y1="463.78" x2="697.90" y2="463.78" stroke="#f0f0f0" stroke-width="0.8"/>
<line x1="402.50" y1="436.36" x2="697.90" y2="436.36" stroke="#f0f0f0" stroke-width="0.8"/>
<line x1="402.50" y1="408.94" x2="697.90" y2="408.94" stroke="#f0f0f0" stroke-width="0.8"/>
<line x1="402.50" y1="381.52" x2="697.90" y2="381.52" stroke="#f0f0f0" stroke-width="0.8"/>
<line x1="402.50" y1="354.10" x2="697.90" y2="354.10" stroke="#f0f0f0" stroke-width="0.8"/>
<line x1="402.50" y1="326.68" x2="697.90" y2="326.68" stroke="#f0f0f0" stroke-width="0.8"/>
<line x1="402.50" y1="299.26" x2="697.90" y2="299.26" stroke="#f0f0f0" stroke-width="0.8"/>
<g clip-path="url(#c3)">
<path d="M402.50 356.43 L410.88 357.46 L419.76 358.79 L430.61 360.69 L438.01 362.18 L446.88 364.30 L461.19 368.04 L483.38 374.35 L487.32 375.42 L490.28 376.13 L493.73 376.86 L499.16 377.90 L502.12 378.31 L508.04 378.91 L511.49 379.14 L514.45 379.19 L517.90 379.08 L521.84 378.81 L523.82 378.51 L531.30 377.16 L532.20 377.17 L532.63 377.31 L533.08 377.56 L533.68 378.01 L534.56 378.79 L535.15 379.52 L536.04 381.10 L537.38 383.96 L538.12 385.75 L539.01 388.17 L542.86 399.47 L544.64 404.92 L546.42 410.65 L550.27 423.99 L556.20 446.17 L559.16 457.85 L560.31 461.96 L561.30 464.94 L562.87 468.94 L564.05 471.58 L565.09 473.45 L565.83 474.44 L567.16 475.79 L568.50 476.89 L569.83 477.81 L571.76 478.93 L574.61 480.41 L577.08 481.51 L579.05 482.22 L582.01 483.02 L584.97 483.66 L597.30 485.80 L599.27 486.03 L601.35 486.13 L602.13 486.03 L602.98 485.73 L604.14 485.07 L605.39 484.12 L605.78 483.71 L606.24 482.97 L606.86 481.60 L607.56 479.61 L608.26 477.24 L609.04 474.27 L609.81 470.21 L610.74 463.57 L611.99 453.02 L612.76 444.77 L613.23 438.66 L613.57 433.02 L616.02 385.33 L617.42 361.86 L617.96 351.77 L618.74 334.68 L620.45 293.41 L622.00 258.72 M648.79 259.17 L649.87 278.17 L651.05 296.33 L652.28 314.09 L653.21 325.76 L654.61 341.18 L655.54 349.71 L655.93 352.40 L656.24 354.06 L656.94 357.03 L657.46 358.53 L657.72 358.89 L658.57 359.45 L659.35 359.76 L660.05 359.86 L675.21 359.86 L680.15 359.79 L688.04 359.54 L697.90 359.04" fill="none" stroke="#161616" stroke-width="0.95" stroke-opacity="0.78" stroke-linejoin="round"/>
<path d="M402.50 354.79 L411.87 355.33 L422.72 356.21 L434.56 357.38 L443.43 358.51 L451.32 359.69 L460.20 361.16 L464.14 361.92 L472.53 363.69 L478.45 364.80 L497.19 368.04 L501.13 368.61 L508.53 369.21 L515.43 369.50 L520.86 369.59 L531.21 369.46 L531.89 369.56 L532.69 369.82 L533.52 370.21 L534.41 370.74 L534.86 371.10 L535.16 371.48 L535.60 372.21 L536.15 373.33 L537.82 377.41 L538.86 380.54 L542.41 392.57 L546.86 408.31 L548.05 412.83 L551.31 426.10 L556.64 445.61 L559.46 456.70 L560.64 461.07 L561.68 464.37 L563.01 467.85 L564.35 470.95 L565.53 473.20 L566.27 474.27 L567.46 475.55 L568.79 476.73 L570.28 477.81 L572.35 479.07 L575.10 480.56 L577.08 481.47 L579.05 482.21 L582.50 483.15 L585.95 483.88 L589.41 484.48 L597.30 485.66 L600.42 486.00 L603.14 486.13 L604.14 486.05 L605.15 485.72 L606.40 485.06 L607.79 484.08 L608.26 483.63 L608.80 482.89 L609.66 481.35 L610.74 478.92 L611.60 476.74 L612.22 474.72 L612.92 471.66 L613.46 467.88 L614.08 462.12 L615.54 446.88 L616.26 437.49 L617.11 421.88 L618.90 384.08 L621.07 342.69 L624.95 259.65 M651.74 258.16 L652.90 279.02 L654.84 310.88 L655.62 322.34 L656.63 335.14 L657.48 345.12 L658.18 351.48 L658.49 353.49 L658.94 355.58 L659.42 357.42 L659.81 358.46 L660.20 359.01 L661.13 359.80 L661.83 360.16 L662.45 360.27 L667.82 360.19 L680.15 359.81 L697.90 359.04" fill="none" stroke="#161616" stroke-width="0.95" stroke-dasharray="5.8 3.5" stroke-opacity="0.78" stroke-linejoin="round"/>
<path d="M402.50 355.33 L407.43 355.32 L412.36 355.47 L417.29 355.76 L422.23 356.20 L427.16 356.80 L432.09 357.54 L437.02 358.42 L441.95 359.45 L446.39 360.50 L451.32 361.81 L455.76 363.10 L460.69 364.67 L466.12 366.55 L473.02 369.09 L479.93 371.73 L484.86 373.74 L490.28 376.18 L495.71 378.94 L500.64 381.78 L505.57 384.95 L510.01 388.05 L515.93 392.35 L526.78 400.59 L529.24 402.26 L533.68 405.06 L535.89 406.60 L538.61 408.71 L543.60 412.91 L545.82 414.69 L548.94 416.96 L553.68 420.23 L556.05 421.63 L558.12 422.58 L559.01 422.88 L559.90 423.09 L560.80 423.20 L561.68 423.20 L562.72 423.05 L563.61 422.80 L564.64 422.33 L565.53 421.80 L566.42 421.14 L567.31 420.35 L569.39 418.09 L572.94 413.71 L577.08 408.79 L579.54 405.64 L581.52 402.85 L587.43 393.94 L589.41 391.19 L591.87 387.94 L595.82 383.02 L598.78 379.55 L600.96 377.18 L604.92 373.16 L606.78 371.05 L608.64 368.59 L612.92 362.33 L614.00 360.91 L615.01 359.74 L616.02 358.76 L616.96 358.05 L617.81 357.59 L618.66 357.35 L619.49 357.31 L620.37 357.44 L621.30 357.71 L623.63 358.54 L624.33 358.71 L625.03 358.80 L625.73 358.78 L626.43 358.62 L627.13 358.30 L627.82 357.81 L628.52 357.16 L629.22 356.34 L629.92 355.36 L630.70 354.09 L631.86 351.82 L634.58 345.94 L635.82 343.68 L636.44 342.78 L637.14 341.93 L637.84 341.26 L638.62 340.68 L639.70 340.15 L640.87 339.87 L642.27 339.82 L645.13 340.06 L646.38 340.06 L647.70 339.84 L649.08 339.29 L649.87 338.82 L650.73 338.20 L651.58 337.47 L652.44 336.62 L653.83 334.97 L656.47 331.44 L657.72 330.11 L658.41 329.60 L659.04 329.34 L659.66 329.29 L660.28 329.48 L660.90 329.88 L661.52 330.47 L662.22 331.36 L662.89 332.38 L664.37 335.20 L667.32 341.90 L668.80 344.95 L670.28 347.42 L671.76 349.43 L673.24 351.11 L677.19 355.09 L682.12 360.48 L684.09 362.38 L685.57 363.55 L686.56 364.15 L687.54 364.57 L688.04 364.70 L689.02 364.81 L690.01 364.66 L690.50 364.43 L691.00 364.07 L691.49 363.54 L691.98 362.80 L692.48 361.83 L692.97 360.59 L693.46 359.05 L694.45 355.00 L696.91 342.52 L697.90 338.47" fill="none" stroke="#0000ff" stroke-width="0.95" stroke-linejoin="round"/>
<path d="M402.50 354.65 L406.94 354.91 L412.36 355.10 L431.10 355.32 L438.50 355.52 L445.90 355.98 L449.35 356.31 L452.80 356.74 L455.76 357.18 L458.72 357.72 L464.14 358.93 L475.49 361.89 L488.31 365.13 L492.75 366.35 L497.19 367.67 L504.58 370.13 L511.98 372.94 L525.30 378.56 L528.25 379.89 L531.15 381.33 L533.97 382.88 L537.23 384.82 L541.67 387.62 L545.53 390.16 L550.71 393.83 L560.64 401.31 L562.87 402.87 L564.94 404.22 L567.61 405.74 L570.13 406.91 L572.35 407.65 L573.24 407.82 L574.12 407.88 L575.10 407.78 L576.09 407.51 L577.08 407.06 L578.06 406.48 L579.05 405.78 L580.04 404.97 L582.50 402.61 L586.45 398.23 L597.79 385.09 L600.26 382.38 L607.87 374.25 L610.82 370.88 L615.05 365.77 L616.18 364.54 L617.19 363.58 L618.59 362.54 L619.28 362.18 L619.91 361.97 L620.60 361.84 L621.38 361.80 L624.49 362.10 L625.88 362.04 L626.66 361.84 L627.36 361.51 L627.98 361.09 L628.68 360.46 L629.38 359.68 L630.15 358.66 L631.71 356.15 L633.10 353.49 L636.05 347.33 L637.45 344.81 L638.15 343.80 L638.93 342.89 L639.70 342.20 L640.48 341.70 L641.57 341.25 L642.73 341.03 L643.97 340.97 L647.23 341.07 L648.24 340.97 L649.08 340.79 L649.87 340.49 L650.73 340.06 L653.52 338.28 L654.61 337.66 L658.26 336.05 L659.19 335.70 L659.93 335.53 L660.59 335.52 L661.21 335.67 L661.68 335.88 L662.22 336.24 L663.38 337.30 L664.37 338.42 L668.31 343.23 L670.78 346.03 L673.24 348.55 L676.20 351.20 L678.17 352.79 L680.64 354.67 L683.11 356.45 L684.58 357.42 L686.06 358.24 L687.05 358.68 L688.53 359.12 L689.52 359.21 L690.50 359.03 L691.00 358.80 L691.49 358.47 L691.98 358.01 L692.48 357.43 L693.46 355.81 L694.45 353.61 L695.43 350.85 L696.42 347.60 L697.90 341.90" fill="none" stroke="#0000ff" stroke-width="0.95" stroke-dasharray="5.8 3.5" stroke-linejoin="round"/>
<path d="M402.50 354.65 L423.71 354.67 L433.08 354.81 L438.01 354.99 L442.45 355.24 L446.88 355.58 L450.83 355.97 L456.25 356.68 L461.68 357.59 L474.99 360.33 L490.28 363.25 L504.09 366.18 L510.99 367.45 L519.38 368.86 L522.83 369.33 L526.28 369.71 L537.82 370.70 L545.23 371.16 L548.19 371.24 L550.86 371.23 L553.83 371.12 L557.09 370.90 L561.53 370.52 L564.79 370.16 L567.46 369.79 L570.13 369.32 L572.79 368.78 L575.60 368.12 L579.54 367.05 L583.98 365.66 L595.32 361.78 L608.26 357.60 L619.44 353.68 L624.33 352.10 L628.37 350.97 L632.64 349.96 L637.14 349.05 L641.88 348.26 L649.25 347.29 L657.17 346.57 L665.84 346.10 L670.28 345.96 L673.74 345.94 L678.17 346.10 L683.11 346.56 L687.54 347.15 L697.90 348.75" fill="none" stroke="#ff0000" stroke-width="0.95" stroke-linejoin="round"/>
<path d="M402.50 354.10 L407.92 354.17 L413.84 354.13 L433.57 353.65 L440.47 353.55 L447.38 353.59 L453.29 353.78 L459.21 354.16 L464.64 354.70 L483.87 357.11 L490.77 358.15 L495.71 359.12 L500.64 360.29 L506.06 361.79 L510.99 363.36 L514.45 364.60 L521.35 367.25 L529.82 370.38 L538.56 373.75 L548.79 377.27 L551.31 378.28 L557.68 381.05 L559.75 381.83 L561.83 382.51 L564.05 383.14 L566.57 383.76 L569.39 384.34 L572.20 384.84 L574.61 385.18 L576.58 385.38 L578.56 385.49 L580.53 385.50 L582.50 385.40 L584.47 385.20 L586.45 384.88 L587.93 384.58 L589.90 384.08 L591.87 383.48 L593.84 382.78 L595.82 382.00 L598.28 380.91 L600.88 379.63 L609.89 374.61 L612.53 373.26 L615.48 371.85 L629.92 365.34 L647.55 357.22 L652.90 355.00 L657.64 353.33 L662.37 352.00 L667.82 350.76 L675.21 349.36 L681.13 348.47 L685.57 348.04 L690.01 347.88 L693.95 348.03 L695.93 348.21 L697.90 348.48" fill="none" stroke="#ff0000" stroke-width="0.95" stroke-dasharray="5.8 3.5" stroke-linejoin="round"/>
</g>
<line x1="508.50" y1="295.45" x2="531.70" y2="295.45" stroke="#161616" stroke-width="0.95"/>
<text x="538.50" y="297.85" font-size="7.6" fill="#222" textLength="46.8" lengthAdjust="spacingAndGlyphs">at Δ<tspan font-style="italic">y</tspan> = ±10<tspan font-style="italic">h</tspan></text>
<line x1="508.50" y1="305.75" x2="531.70" y2="305.75" stroke="#0000ff" stroke-width="0.95"/>
<text x="538.50" y="308.15" font-size="7.6" fill="#222" textLength="50.5" lengthAdjust="spacingAndGlyphs">at Δ<tspan font-style="italic">y</tspan> = ±200<tspan font-style="italic">h</tspan></text>
<line x1="508.50" y1="316.05" x2="531.70" y2="316.05" stroke="#ff0000" stroke-width="0.95"/>
<text x="538.50" y="318.45" font-size="7.6" fill="#222" textLength="50.5" lengthAdjust="spacingAndGlyphs">at Δ<tspan font-style="italic">y</tspan> = ±600<tspan font-style="italic">h</tspan></text>
<path d="M402.50 491.20v-4.20 M402.50 285.55v4.20 M432.04 491.20v-4.20 M432.04 285.55v4.20 M461.58 491.20v-4.20 M461.58 285.55v4.20 M491.12 491.20v-4.20 M491.12 285.55v4.20 M520.66 491.20v-4.20 M520.66 285.55v4.20 M550.20 491.20v-4.20 M550.20 285.55v4.20 M579.74 491.20v-4.20 M579.74 285.55v4.20 M609.28 491.20v-4.20 M609.28 285.55v4.20 M638.82 491.20v-4.20 M638.82 285.55v4.20 M668.36 491.20v-4.20 M668.36 285.55v4.20 M697.90 491.20v-4.20 M697.90 285.55v4.20 M402.50 491.20h4.20 M697.90 491.20h-4.20 M402.50 463.78h4.20 M697.90 463.78h-4.20 M402.50 436.36h4.20 M697.90 436.36h-4.20 M402.50 408.94h4.20 M697.90 408.94h-4.20 M402.50 381.52h4.20 M697.90 381.52h-4.20 M402.50 354.10h4.20 M697.90 354.10h-4.20 M402.50 326.68h4.20 M697.90 326.68h-4.20 M402.50 299.26h4.20 M697.90 299.26h-4.20 " stroke="#a8a8a8" stroke-width="0.7" fill="none"/>
<rect x="402.50" y="285.55" width="295.40" height="205.65" fill="none" stroke="#a9a9a9" stroke-width="1.0"/>
<line x1="396.90" y1="498.40" x2="402.90" y2="498.40" stroke="#222" stroke-width="0.75"/>
<text x="403.90" y="501.25" font-size="10.7" fill="#222" stroke="#222" stroke-width="0.25">4</text>
<line x1="426.44" y1="498.40" x2="432.44" y2="498.40" stroke="#222" stroke-width="0.75"/>
<text x="433.44" y="501.25" font-size="10.7" fill="#222" stroke="#222" stroke-width="0.25">3</text>
<line x1="455.98" y1="498.40" x2="461.98" y2="498.40" stroke="#222" stroke-width="0.75"/>
<text x="462.98" y="501.25" font-size="10.7" fill="#222" stroke="#222" stroke-width="0.25">2</text>
<line x1="485.52" y1="498.40" x2="491.52" y2="498.40" stroke="#222" stroke-width="0.75"/>
<text x="492.52" y="501.25" font-size="10.7" fill="#222" stroke="#222" stroke-width="0.25">1</text>
<text x="520.66" y="501.25" font-size="10.7" text-anchor="middle" fill="#222" stroke="#222" stroke-width="0.25">0</text>
<text x="550.20" y="501.25" font-size="10.7" text-anchor="middle" fill="#222" stroke="#222" stroke-width="0.25">1</text>
<text x="579.74" y="501.25" font-size="10.7" text-anchor="middle" fill="#222" stroke="#222" stroke-width="0.25">2</text>
<text x="609.28" y="501.25" font-size="10.7" text-anchor="middle" fill="#222" stroke="#222" stroke-width="0.25">3</text>
<text x="638.82" y="501.25" font-size="10.7" text-anchor="middle" fill="#222" stroke="#222" stroke-width="0.25">4</text>
<text x="668.36" y="501.25" font-size="10.7" text-anchor="middle" fill="#222" stroke="#222" stroke-width="0.25">5</text>
<text x="697.90" y="501.25" font-size="10.7" text-anchor="middle" fill="#222" stroke="#222" stroke-width="0.25">6</text>
<text x="395.25" y="493.50" font-size="10.7" text-anchor="end" letter-spacing="0.1" fill="#222" stroke="#222" stroke-width="0.25">0.0</text>
<text x="395.25" y="466.08" font-size="10.7" text-anchor="end" letter-spacing="0.1" fill="#222" stroke="#222" stroke-width="0.25">0.2</text>
<text x="395.25" y="438.66" font-size="10.7" text-anchor="end" letter-spacing="0.1" fill="#222" stroke="#222" stroke-width="0.25">0.4</text>
<text x="395.25" y="411.24" font-size="10.7" text-anchor="end" letter-spacing="0.1" fill="#222" stroke="#222" stroke-width="0.25">0.6</text>
<text x="395.25" y="383.82" font-size="10.7" text-anchor="end" letter-spacing="0.1" fill="#222" stroke="#222" stroke-width="0.25">0.8</text>
<text x="395.25" y="356.40" font-size="10.7" text-anchor="end" letter-spacing="0.1" fill="#222" stroke="#222" stroke-width="0.25">1.0</text>
<text x="395.25" y="328.98" font-size="10.7" text-anchor="end" letter-spacing="0.1" fill="#222" stroke="#222" stroke-width="0.25">1.2</text>
<text x="395.25" y="301.56" font-size="10.7" text-anchor="end" letter-spacing="0.1" fill="#222" stroke="#222" stroke-width="0.25">1.4</text>
<text x="550.20" y="514.10" font-size="11.6" text-anchor="middle" fill="#222" stroke="#222" stroke-width="0.2" textLength="46" lengthAdjust="spacingAndGlyphs"><tspan font-style="italic">x</tspan> − <tspan font-style="italic">x</tspan><tspan font-style="italic" font-size="8.2" dy="1.8">m</tspan><tspan dy="-1.8"> [h]</tspan></text>
<text transform="translate(368.30 389.07) rotate(-90)" font-size="12.2" text-anchor="middle" fill="#222" stroke="#222" stroke-width="0.2" textLength="23.2" lengthAdjust="spacingAndGlyphs">Σ/Σ<tspan font-size="8.4" dy="1.8">0</tspan></text>
<text x="350" y="10.6" font-size="10.3" font-weight="bold" text-anchor="middle" fill="#111" textLength="190.5" lengthAdjust="spacingAndGlyphs">Symmetric radial gap profiles: <tspan font-weight="normal" font-style="italic">h</tspan><tspan font-weight="normal"> = 400 </tspan>m</text>
<text x="170.5" y="268.4" font-size="10.3" font-weight="bold" text-anchor="middle" fill="#111" textLength="146.5" lengthAdjust="spacingAndGlyphs">Asymmetric radial gap profiles:</text>
<text x="170.5" y="279.6" font-size="10.6" text-anchor="middle" fill="#111" textLength="229.5" lengthAdjust="spacingAndGlyphs"><tspan font-style="italic">h</tspan> = 400 m, <tspan font-style="italic">x</tspan><tspan font-style="italic" font-size="7.6" dy="1.6">m</tspan><tspan dy="-1.6"> = 0.5 h, </tspan><tspan font-style="italic">T</tspan><tspan font-style="italic" font-size="7.6" dy="1.6">m</tspan><tspan dy="-1.6"> = 80 orbits at </tspan><tspan font-style="italic">t</tspan> = 220 orbits</text>
<text x="530.5" y="268.4" font-size="10.3" font-weight="bold" text-anchor="middle" fill="#111" textLength="146.5" lengthAdjust="spacingAndGlyphs">Asymmetric radial gap profiles:</text>
<text x="530.5" y="279.6" font-size="10.6" text-anchor="middle" fill="#111" textLength="229.5" lengthAdjust="spacingAndGlyphs"><tspan font-style="italic">h</tspan> = 400 m, <tspan font-style="italic">x</tspan><tspan font-style="italic" font-size="7.6" dy="1.6">m</tspan><tspan dy="-1.6"> = 0.5 h, </tspan><tspan font-style="italic">T</tspan><tspan font-style="italic" font-size="7.6" dy="1.6">m</tspan><tspan dy="-1.6"> = 80 orbits at </tspan><tspan font-style="italic">t</tspan> = 240 orbits</text>
</svg>
</body></html>
